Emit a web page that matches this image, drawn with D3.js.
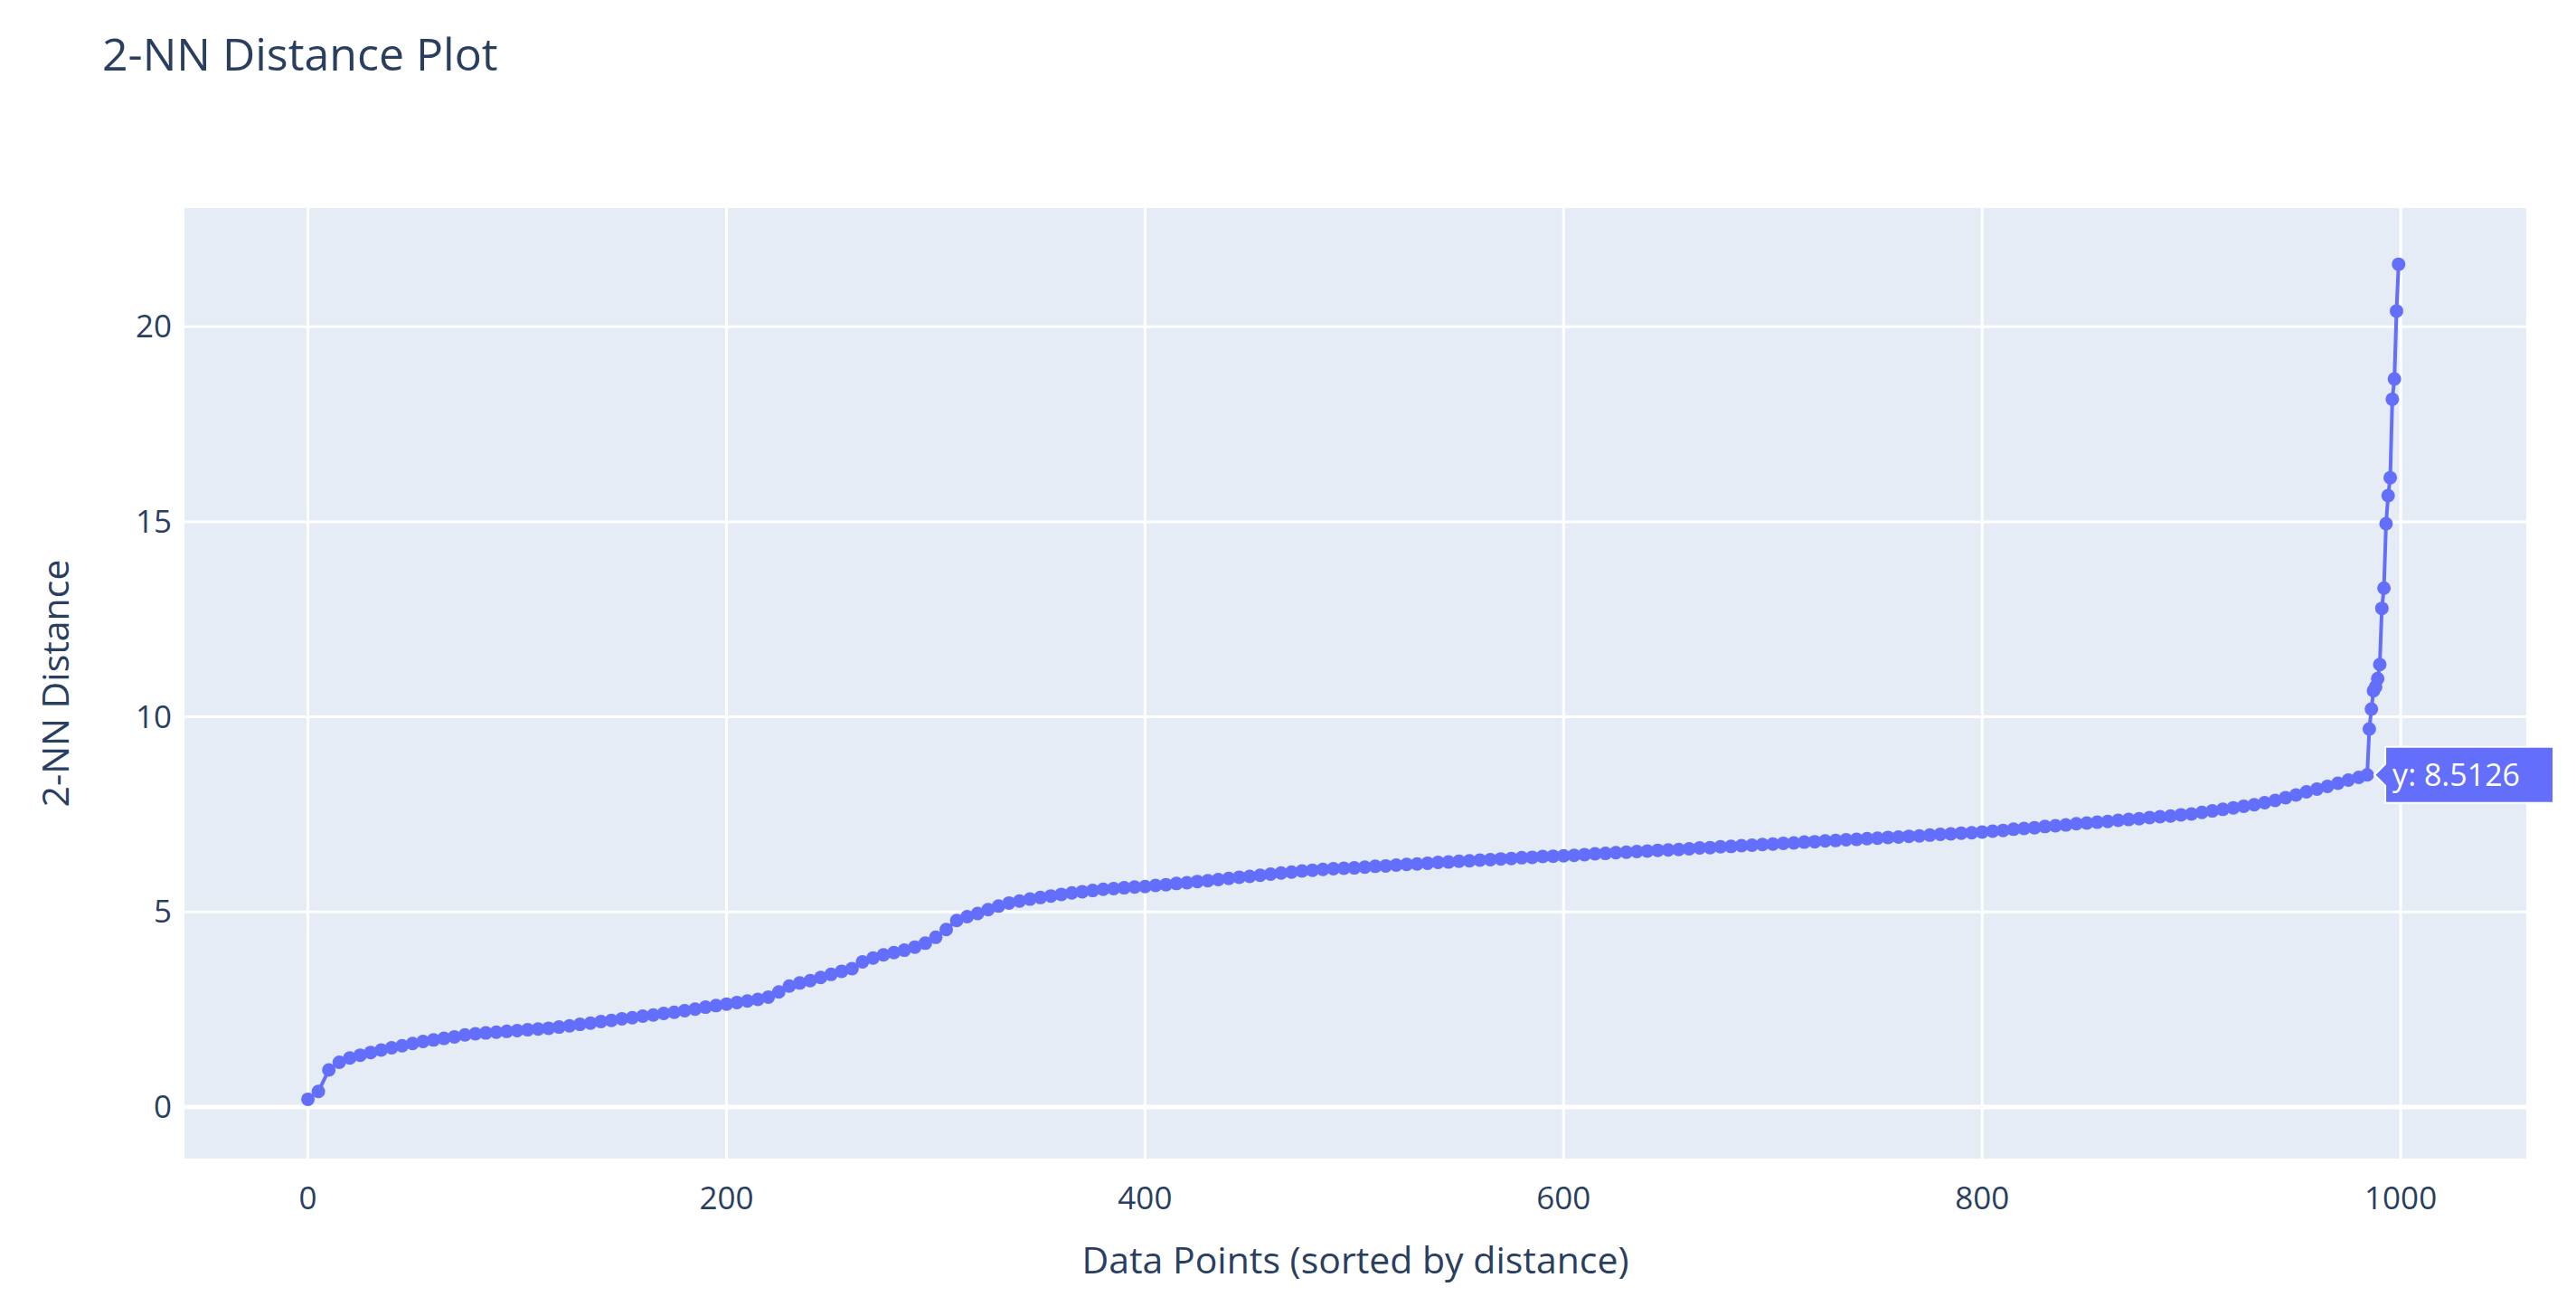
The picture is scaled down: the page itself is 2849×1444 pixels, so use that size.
<!DOCTYPE html>
<html>
<head>
<meta charset="UTF-8">
<title>2-NN Distance Plot</title>
<script src="https://d3js.org/d3.v7.min.js"></script>
<style>
  body { margin: 0; background: #fff; font-family: "Open Sans", sans-serif; }
  svg text { fill: #2a3f5f; }
</style>
</head>
<body>
<svg id="chart" width="2849" height="1444"></svg>
<script>
// sampled every 5 points up to 980, then every point in the tail
const sampleIdx = d3.range(0, 985, 5).concat([984, 985, 986, 987, 988, 989, 990, 991, 992, 993, 994, 995, 996, 997, 998, 999]);
const distance = [
  0.2, 0.4, 0.95, 1.15, 1.26, 1.33, 1.4, 1.46, 1.52, 1.57,
  1.63, 1.68, 1.72, 1.76, 1.8, 1.85, 1.88, 1.9, 1.92, 1.94,
  1.96, 1.98, 2.0, 2.02, 2.05, 2.08, 2.12, 2.15, 2.19, 2.22,
  2.26, 2.29, 2.33, 2.36, 2.4, 2.43, 2.47, 2.51, 2.56, 2.6,
  2.64, 2.68, 2.72, 2.76, 2.82, 2.95, 3.1, 3.18, 3.24, 3.32,
  3.4, 3.48, 3.55, 3.72, 3.82, 3.9, 3.96, 4.02, 4.1, 4.2,
  4.35, 4.55, 4.78, 4.88, 4.96, 5.06, 5.15, 5.23, 5.28, 5.33,
  5.37, 5.41, 5.45, 5.49, 5.52, 5.55, 5.58, 5.6, 5.62, 5.64,
  5.65, 5.68, 5.7, 5.73, 5.75, 5.78, 5.8, 5.83, 5.86, 5.89,
  5.91, 5.94, 5.97, 6.0, 6.02, 6.05, 6.07, 6.09, 6.11, 6.12,
  6.13, 6.15, 6.17, 6.18, 6.2, 6.22, 6.23, 6.25, 6.27, 6.28,
  6.3, 6.31, 6.33, 6.34, 6.36, 6.37, 6.39, 6.4, 6.42, 6.43,
  6.44, 6.45, 6.47, 6.49, 6.5, 6.52, 6.53, 6.55, 6.56, 6.58,
  6.59, 6.6, 6.62, 6.64, 6.65, 6.67, 6.68, 6.7, 6.71, 6.73,
  6.74, 6.76, 6.77, 6.79, 6.8, 6.82, 6.83, 6.85, 6.86, 6.88,
  6.89, 6.91, 6.92, 6.94, 6.95, 6.97, 6.99, 7.0, 7.02, 7.03,
  7.05, 7.07, 7.09, 7.12, 7.14, 7.16, 7.19, 7.21, 7.23, 7.26,
  7.28, 7.3, 7.32, 7.35, 7.37, 7.39, 7.42, 7.44, 7.46, 7.49,
  7.51, 7.55, 7.59, 7.63, 7.67, 7.71, 7.75, 7.8, 7.86, 7.93,
  8.0, 8.08, 8.15, 8.22, 8.3, 8.38, 8.45,
  8.5126, 9.69, 10.2, 10.67, 10.77, 10.98, 11.34, 12.78, 13.3, 14.95,
  15.67, 16.13, 18.14, 18.66, 20.4, 21.6
];
const xTicks = [0, 200, 400, 600, 800, 1000];
const yTicks = [0, 5, 10, 15, 20];
const hoverIdx = 984;

const data = sampleIdx.map((x, i) => ({ x: x, y: distance[i] }));

const W = 2849, H = 1444;
const m = { left: 204, right: 2794, top: 230, bottom: 1281 };

const svg = d3.select("#chart");
const x = d3.scaleLinear().domain([-59, 1060]).range([m.left, m.right]);
const y = d3.scaleLinear().domain([-1.32, 23.04]).range([m.bottom, m.top]);

svg.append("rect")
  .attr("x", m.left).attr("y", m.top)
  .attr("width", m.right - m.left).attr("height", m.bottom - m.top)
  .attr("fill", "#e5ecf6");

// grid
svg.append("g").selectAll("line").data(xTicks).join("line")
  .attr("x1", d => x(d)).attr("x2", d => x(d))
  .attr("y1", m.top).attr("y2", m.bottom)
  .attr("stroke", "#fff").attr("stroke-width", 3);
svg.append("g").selectAll("line").data(yTicks).join("line")
  .attr("x1", m.left).attr("x2", m.right)
  .attr("y1", d => y(d)).attr("y2", d => y(d))
  .attr("stroke", "#fff").attr("stroke-width", d => d === 0 ? 5 : 3);

// tick labels
svg.append("g").selectAll("text").data(xTicks).join("text")
  .attr("x", d => x(d)).attr("y", m.bottom + 56)
  .attr("text-anchor", "middle").attr("font-size", 35)
  .text(d => d);
svg.append("g").selectAll("text").data(yTicks).join("text")
  .attr("x", m.left - 14).attr("y", d => y(d) + 12)
  .attr("text-anchor", "end").attr("font-size", 35)
  .text(d => d);

// line + markers
svg.append("path").datum(data)
  .attr("fill", "none").attr("stroke", "#636efa").attr("stroke-width", 4)
  .attr("d", d3.line().x(d => x(d.x)).y(d => y(d.y)));
svg.append("g").selectAll("circle").data(data).join("circle")
  .attr("cx", d => x(d.x)).attr("cy", d => y(d.y)).attr("r", 7.5)
  .attr("fill", "#636efa");

// hover label
const hp = data.find(d => d.x === hoverIdx);
const hx = x(hp.x) + 8, hy = y(hp.y);
const hover = svg.append("g").attr("transform", `translate(${hx},${hy})`);
hover.append("path")
  .attr("d", "M0,0 L12,-12 L12,-31 L198,-31 L198,31 L12,31 L12,12 Z")
  .attr("fill", "#636efa").attr("stroke", "#fff").attr("stroke-width", 2);
hover.append("text").attr("x", 20).attr("y", 12)
  .attr("font-size", 34).style("fill", "#fff")
  .text(`y: ${hp.y.toFixed(4)}`);

// titles
svg.append("text").attr("x", 113).attr("y", 78)
  .attr("font-size", 50).text("2-NN Distance Plot");
svg.append("text").attr("x", (m.left + m.right) / 2).attr("y", 1408)
  .attr("text-anchor", "middle").attr("font-size", 41)
  .text("Data Points (sorted by distance)");
svg.append("text")
  .attr("transform", `translate(76,${(m.top + m.bottom) / 2}) rotate(-90)`)
  .attr("text-anchor", "middle").attr("font-size", 41)
  .text("2-NN Distance");
</script>
</body>
</html>
